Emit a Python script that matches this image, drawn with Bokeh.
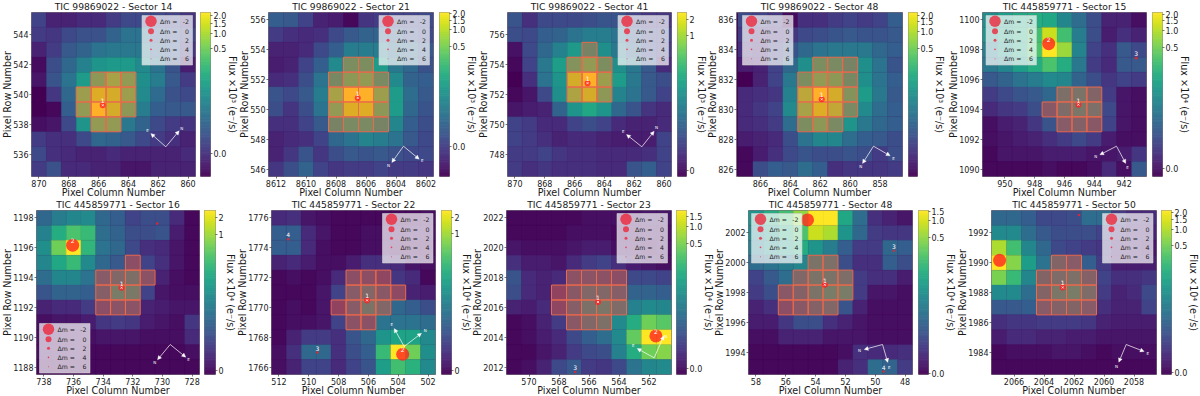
from bokeh.plotting import figure
from bokeh.layouts import row, column
from bokeh.models import Range1d, FixedTicker, Arrow, NormalHead
from bokeh.core.properties import value
from bokeh.palettes import Viridis256
from bokeh.embed import file_html
from bokeh.resources import INLINE

FONT = "DejaVu Sans"
INK = "#1a1a1a"
TS, LS, KS = "9.2px", "9.6px", "8px"

# colour level of every pixel, 0-100 along the (stretched) colour bar; rows run top to bottom
flux_a = [[20,10,10,12,12,18,22,22,22,20,15],[18,16,22,25,25,32,38,38,28,24,20],[10,18,28,32,38,40,40,40,30,28,16],[3,24,34,44,52,54,54,48,38,26,8],[6,26,38,55,70,78,72,50,42,28,18],[0,16,34,75,92,90,75,48,35,25,22],[0,2,30,72,100,90,70,42,30,28,28],[4,6,22,52,72,72,40,32,22,18,15],[18,14,14,22,34,32,28,22,18,14,10],[22,14,12,10,10,12,10,10,10,10,12],[18,25,12,12,10,10,6,6,10,10,10]]
flux_b = [[30,28,20,10,8,2,15,18,20,20,22],[18,14,12,14,22,28,32,32,30,24,22],[10,10,12,22,30,42,42,42,36,34,28],[8,10,20,30,48,62,62,55,40,34,25],[12,14,24,38,58,70,72,60,48,32,30],[26,22,28,42,78,100,100,75,55,36,28],[24,15,24,38,72,92,92,70,55,34,26],[14,14,20,28,55,60,60,55,46,30,24],[10,12,14,20,34,38,45,42,38,28,22],[10,16,26,16,24,28,26,28,25,22,22],[16,24,32,20,16,18,18,20,18,18,16]]
flux_c = [[26,14,22,22,22,24,26,26,20,16,16],[24,22,30,32,38,42,42,38,28,20,20],[5,22,34,44,54,55,50,40,32,22,18],[2,20,40,56,66,72,62,50,40,28,12],[0,14,38,52,90,100,75,55,40,28,24],[2,6,22,50,80,90,70,45,38,28,20],[6,8,10,32,52,60,52,34,26,15,12],[20,18,12,12,20,24,20,12,10,10,12],[20,18,14,10,12,12,10,8,8,8,20],[18,18,20,16,14,14,12,12,12,14,20],[18,14,16,14,14,14,12,12,26,30,20]]
flux_d = [[22,20,16,3,14,14,18,20,18,20,30],[18,14,14,16,22,24,26,28,26,26,28],[14,12,18,26,34,38,40,40,40,34,30],[8,10,20,34,50,62,60,55,50,38,26],[0,10,20,40,62,72,70,58,50,38,30],[12,14,16,44,84,100,90,66,55,40,28],[12,16,20,48,78,92,85,60,48,36,30],[12,14,18,36,62,70,60,52,40,34,30],[8,10,12,24,38,46,46,36,30,28,24],[2,8,14,22,26,24,24,26,24,18,24],[2,24,30,28,36,30,14,16,16,16,18]]
flux_e = [[50,56,60,62,60,46,36,24,10,10,4],[52,58,62,70,92,70,42,24,8,14,10],[44,54,60,72,100,85,45,20,14,28,22],[40,46,56,62,72,62,40,18,12,28,28],[28,32,38,42,48,46,32,24,16,20,18],[18,22,26,28,34,40,44,34,18,6,4],[12,16,18,24,26,38,46,42,22,6,4],[4,8,10,16,26,28,32,26,20,6,4],[4,6,8,10,14,18,22,18,8,4,4],[2,6,6,6,8,8,8,6,6,8,16],[2,2,2,2,4,2,2,4,12,4,28]]
flux_f = [[34,42,46,48,34,30,20,24,24,12,2],[44,62,72,68,36,32,24,24,26,8,2],[50,78,100,66,38,34,22,14,12,6,2],[46,60,68,48,34,28,20,20,14,6,2],[36,46,46,38,28,36,40,22,10,4,2],[26,32,32,30,30,50,48,20,6,4,4],[10,12,12,18,20,24,24,10,8,6,6],[4,6,6,8,16,18,16,8,6,4,16],[4,4,4,4,6,6,6,4,4,4,12],[4,4,4,2,2,2,2,2,2,2,4],[2,2,2,2,2,2,2,2,2,2,2]]
flux_g = [[12,14,6,4,2,2,2,2,2,2,4],[30,30,12,6,2,2,4,4,4,4,4],[30,30,12,4,2,2,4,4,2,2,2],[10,12,8,4,4,8,14,14,12,6,4],[2,4,2,4,12,20,20,16,16,12,2],[2,2,2,6,20,28,36,26,18,10,8],[2,4,2,6,14,28,44,36,34,30,24],[2,4,4,6,20,22,22,38,38,38,36],[2,10,18,18,14,26,34,52,58,58,48],[4,14,34,34,14,24,30,68,100,78,50],[4,10,20,20,12,20,26,56,70,64,48]]
flux_h = [[2,2,2,2,2,4,4,4,4,6,6],[2,2,2,2,4,4,4,2,4,4,4],[6,4,4,4,6,8,8,4,4,2,4],[14,8,8,6,12,18,20,14,8,6,4],[26,12,10,12,22,24,22,20,22,22,20],[24,12,10,14,26,36,36,30,32,32,30],[10,8,12,16,30,42,46,38,44,48,46],[2,4,10,18,26,36,42,48,62,78,74],[2,4,8,12,22,30,36,48,76,100,100],[2,2,6,10,18,22,24,44,62,78,82],[2,4,10,22,28,18,16,22,38,46,48]]
flux_i = [[52,62,70,84,100,100,60,36,14,10,6],[48,54,62,72,92,88,52,34,18,16,16],[44,50,56,62,52,42,30,18,18,34,30],[36,38,42,46,44,42,24,14,14,30,24],[20,28,36,36,44,44,40,18,14,14,8],[18,24,26,32,44,50,50,18,6,6,4],[10,14,20,26,32,36,26,10,4,4,4],[8,8,16,24,24,14,10,6,4,4,4],[4,4,10,10,10,6,6,6,4,4,4],[2,2,2,2,2,2,4,14,12,12,14],[2,2,2,2,2,2,10,14,36,32,18]]
flux_j = [[34,34,30,22,22,24,36,36,18,12,12],[48,48,36,28,24,24,24,20,14,10,10],[88,70,46,34,22,20,18,16,8,8,6],[100,82,56,38,34,28,30,18,8,8,8],[80,68,46,34,38,42,32,20,14,14,16],[48,48,36,34,46,50,38,18,10,12,22],[28,28,30,28,32,34,28,14,10,10,20],[14,16,16,18,18,18,16,10,8,8,8],[8,12,12,10,10,8,8,6,6,6,6],[2,4,4,4,6,6,4,2,4,4,4],[2,2,2,2,2,2,2,2,2,2,2]]

titles = ["TIC 99869022 - Sector 14","TIC 99869022 - Sector 21","TIC 99869022 - Sector 41","TIC 99869022 - Sector 48","TIC 445859771 - Sector 15",
          "TIC 445859771 - Sector 16","TIC 445859771 - Sector 22","TIC 445859771 - Sector 23","TIC 445859771 - Sector 48","TIC 445859771 - Sector 50"]
fluxes = [flux_a,flux_b,flux_c,flux_d,flux_e,flux_f,flux_g,flux_h,flux_i,flux_j]
first_col = [870,8612,870,867,951,738,512,571,58,2067]
top_row = [545,556,757,836,1100,1198,1776,2022,2003,1993]
x_ticks = [[870,868,866,864,862,860],[8612,8610,8608,8606,8604,8602],[870,868,866,864,862,860],[866,864,862,860,858],[950,948,946,944,942],
           [738,736,734,732,730,728],[512,510,508,506,504,502],[570,568,566,564,562],[58,56,54,52,50,48],[2066,2064,2062,2060,2058]]
y_ticks = [[536,538,540,542,544],[546,548,550,552,554,556],[748,750,752,754,756],[826,828,830,832,834,836],[1090,1092,1094,1096,1098,1100],
           [1188,1190,1192,1194,1196,1198],[1766,1768,1770,1772,1774,1776],[2012,2014,2016,2018,2020,2022],[1994,1996,1998,2000,2002],[1984,1986,1988,1990,1992]]

# pixels in the photometric aperture: (row, columns)
apertures = [
 [(541,[866,865,864]),(540,[867,866,865,864]),(539,[867,866,865,864]),(538,[866,865])],
 [(553,[8607,8606]),(552,[8608,8607,8606,8605]),(551,[8608,8607,8606,8605]),(550,[8608,8607,8606,8605]),(549,[8608,8607,8606,8605])],
 [(755,[865]),(754,[866,865,864]),(753,[866,865,864]),(752,[866,865,864])],
 [(833,[862,861,860]),(832,[863,862,861,860]),(831,[863,862,861,860]),(830,[863,862,861,860]),(829,[863,862,861])],
 [(1095,[946,945,944]),(1094,[947,946,945,944]),(1093,[946,945,944])],
 [(1195,[732]),(1194,[734,733,732,731]),(1193,[734,733,732]),(1192,[734,733,732])],
 [(1772,[507,506,505]),(1771,[507,506,505,504]),(1770,[508,507,506,505]),(1769,[507,506])],
 [(2018,[567,566,565,564]),(2017,[568,567,566,565,564]),(2016,[568,567,566,565,564]),(2015,[567,566,565])],
 [(2000,[54,53]),(1999,[55,54,53,52]),(1998,[56,55,54,53,52]),(1997,[56,55,54,53])],
 [(1990,[2063,2062]),(1989,[2064,2063,2062,2061]),(1988,[2064,2063,2062,2061]),(1987,[2064,2063,2062,2061])],
]

# neighbouring stars: x, y, marker size, label
star_x = [[865.72],[8606.55],[865.13],[861.9],[945.07,947.06,941.19],[732.76,736.06,730.36],[506.09,503.7,509.42,511.38],[565.4,561.54,566.92],[53.38,54.54,48.75,49.44],[2062.75,2066.96,2061.67]]
star_y = [[539.28],[550.77],[752.76],[830.68],[1094.32,1098.41,1097.44],[1193.32,1196.17,1197.63],[1770.47,1766.86,1766.97,1774.57],[2016.36,2014.09,2011.67],[1998.52,2002.87,2000.8,1992.7],[1988.34,1990.16,1993.19]]
star_s = [[6],[6],[6],[6],[6,13,3],[6,13,2.5],[6,13,2.5,2.5],[6,13,2.5],[6,13,2.5,2.5],[6,13,2.5]]
star_l = [["1"],["1"],["1"],["1"],["1","2","3"],["1","2",""],["1","2","3","4"],["1","2","3"],["1","","3","4"],["1","","" ]]

# compass: origin, N tip, E tip, N label, E label in frame pixels
compass = [
 [(134.3,134.3),(147.7,118.3),(119.3,121),(150.3,116),(116,118)],
 [(135,133.7),(123.3,150),(150.7,146.7),(120,152.7),(153.7,148.3)],
 [(134.3,134.3),(146.7,118.7),(119,122),(149,114.7),(115.7,119.3)],
 [(137,133.7),(126,151),(153.7,143.3),(124.3,153.7),(157,145.7)],
 [(134,133.7),(117.3,142.3),(143.3,151),(113.3,144.3),(145,154.7)],
 [(133.7,134),(121,149.3),(149.3,146.7),(118.3,152.3),(152,149)],
 [(132.7,136),(150,122.7),(122.7,118),(153.7,120),(120.3,114.3)],
 [(147.7,147.3),(157.3,125.3),(130.7,138),(159.3,126),(126.7,135.3)],
 [(134,134),(115.7,139),(139.3,152),(111,139.7),(140.7,156.7)],
 [(134.7,134),(127.3,151.7),(152.7,141),(125,155.7),(156.3,143)],
]

legend_dm = ["-2","0","2","4","6"]
legend_size = [11.5,6,3,1.6,1]
legend_box = [(110.5,3),(110.5,3),(110.5,3),(6,3),(3.5,3),(3,113),(111,3),(110.5,3),(3,3),(111,3)]  # frame px of the box corner

cbar_labels = [["2.0","1.5","1.0","0.5","0.0"],["2.0","1.5","1.0","0.5","0.0"],["2","1","0"],["2.0","1.5","1.0","0.5"],["2.0","1.5","1.0","0.5","0.0"],
               ["2","1","0"],["2","1","0"],["1.5","1.0","0.5","0.0"],["1.5","1.0","0.5","0.0"],["2.0","1.5","1.0","0.5","0.0"]]
cbar_pos = [[.98,.935,.873,.778,.143],[.994,.953,.896,.79,.182],[.955,.861,.037],[.984,.943,.882,.778],[.988,.949,.89,.786,.049],
            [.96,.853,.026],[.96,.857,.024],[.961,.902,.80,.039],[.994,.937,.837,.006],[.99,.945,.886,.788,.012]]
cbar_title = ["Flux ×10³ (e⁻/s)"]*4 + ["Flux ×10⁴ (e⁻/s)"]*6

frame_l = [31,268,507,736,982, 36,271,506,748,991]
frame_r = [195,433,671,902,1146, 199,435,671,912,1156]
bar_l = [200,439,677,908,1152, 204,441,676,918,1161]
bar_r = [210,449,686,917,1162, 215,451,686,928,1171]
border_l = [33,33,33,33,38, 38,38,38,38,38]
border_r = [33,33,23,33,33, 24,24,33,33,28]
ROW_TOP = [12,210]
FH = 164
BT, BB = 20, 25


def style_axis(ax, label_standoff):
    ax.major_label_text_font = FONT
    ax.major_label_text_font_size = KS
    ax.major_label_text_color = INK
    ax.axis_label_text_font = FONT
    ax.axis_label_text_font_size = LS
    ax.axis_label_text_font_style = "normal"
    ax.axis_label_text_color = INK
    ax.axis_label_standoff = label_standoff
    ax.major_label_standoff = 1
    ax.major_tick_in = 0
    ax.major_tick_out = 2
    ax.minor_tick_line_color = None
    ax.axis_line_color = None
    ax.major_tick_line_width = 0.6
    ax.major_tick_line_color = INK


def heat(i, margin_left):
    fw = frame_r[i] - frame_l[i]
    x0 = first_col[i] + 0.5
    x1 = first_col[i] - 10.5
    y1 = top_row[i] + 0.5
    y0 = top_row[i] - 10.5
    if i == 3:
        x0 += 0.1
    fx = lambda v: x0 + (x1 - x0) * v / fw
    fy = lambda v: y1 + (y0 - y1) * v / FH
    p = figure(x_range=Range1d(x0, x1), y_range=Range1d(y0, y1), frame_width=fw, frame_height=FH,
               min_border_left=border_l[i], min_border_right=bar_l[i] - frame_r[i], min_border_top=BT, min_border_bottom=BB,
               toolbar_location=None, output_backend="svg", title=titles[i],
               margin=(0, 0, 0, margin_left), border_fill_color=None, background_fill_color="#440154",
               outline_line_color="#666666", outline_line_width=0.7)
    p.title.text_font = FONT
    p.title.text_font_size = TS
    p.title.text_font_style = "normal"
    p.title.text_color = INK
    p.title.align = "center"
    p.title.standoff = 1
    p.title.offset = 0
    p.grid.visible = False
    p.xaxis.axis_label = "Pixel Column Number"
    p.yaxis.axis_label = "Pixel Row Number"
    p.xaxis.ticker = FixedTicker(ticks=x_ticks[i])
    p.yaxis.ticker = FixedTicker(ticks=y_ticks[i])
    style_axis(p.xaxis[0], -3)
    style_axis(p.yaxis[0], -3)

    xs, ys, cs = [], [], []
    for r, line in enumerate(fluxes[i]):
        for c, v in enumerate(line):
            xs.append(first_col[i] - c)
            ys.append(top_row[i] - r)
            cs.append(Viridis256[min(255, int(v * 2.555))])
    p.rect(xs, ys, width=1, height=1, fill_color=cs, line_color=cs, line_width=0.3)

    ax, ay = [], []
    for rw, cols in apertures[i]:
        for c in cols:
            ax.append(c)
            ay.append(rw)
    p.rect(ax, ay, width=1, height=1, fill_color="#ff6030", fill_alpha=0.4, line_color="#ea6a4e", line_width=1)

    p.scatter(star_x[i], star_y[i], size=star_s[i], marker="circle", fill_color="#ff2020", fill_alpha=0.78, line_color=None)
    p.scatter(star_x[i][:1], star_y[i][:1], size=3, marker="x", line_color="white", line_width=0.7)
    up = (y1 - y0) / FH * 4.5
    p.text(star_x[i], [y + up for y in star_y[i]], text=star_l[i], text_color="white", text_font=value(FONT),
           text_font_size=value("6px"), text_align="center", text_baseline="middle")

    o, n, e, nl, el = compass[i]
    for tip in (n, e):
        p.add_layout(Arrow(x_start=fx(o[0]), y_start=fy(o[1]), x_end=fx(tip[0]), y_end=fy(tip[1]),
                           line_color="white", line_width=0.7,
                           end=NormalHead(size=4, fill_color="white", line_color="white", line_width=0.3)))
    p.text([fx(nl[0]), fx(el[0])], [fy(nl[1]), fy(el[1])], text=["N", "E"], text_color="white", text_font=value(FONT),
           text_font_size=value("4px"), text_align="center", text_baseline="middle")

    bx, by = legend_box[i]
    p.quad(left=[fx(bx)], right=[fx(bx + 50.5)], top=[fy(by)], bottom=[fy(by + 49.5)],
           fill_color="white", fill_alpha=0.7, line_color="#cccccc", line_width=0.6)
    rows = [5.7, 15.7, 24.8, 33.9, 43.2]
    p.scatter([fx(bx + 9)] * 5, [fy(by + v) for v in rows], size=legend_size, marker="circle",
              fill_color="#f01c30", fill_alpha=0.75, line_color=None)
    p.text([fx(bx + 18)] * 5, [fy(by + v) for v in rows], text=["Δm ="] * 5, text_font=value(FONT),
           text_font_size=value("6.2px"), text_baseline="middle", text_color="#222222")
    p.text([fx(bx + 47)] * 5, [fy(by + v) for v in rows], text=legend_dm, text_font=value(FONT),
           text_font_size=value("6.2px"), text_baseline="middle", text_align="right", text_color="#222222")
    return p


def bar(i):
    fw = bar_r[i] - bar_l[i]
    b = figure(x_range=Range1d(0, 1), y_range=Range1d(0, 1), frame_width=fw, frame_height=FH,
               min_border_left=0, min_border_right=border_r[i], min_border_top=BT, min_border_bottom=BB,
               toolbar_location=None, output_backend="svg", x_axis_location=None, y_axis_location="right",
               margin=0, border_fill_color=None, outline_line_color="#666666", outline_line_width=0.7)
    b.grid.visible = False
    n = len(Viridis256)
    b.quad(left=[0] * n, right=[1] * n, bottom=[k / n for k in range(n)], top=[(k + 1) / n for k in range(n)],
           fill_color=list(Viridis256), line_color=list(Viridis256), line_width=0.4)
    ax = b.yaxis[0]
    ax.ticker = FixedTicker(ticks=cbar_pos[i])
    ax.major_label_overrides = dict(zip(cbar_pos[i], cbar_labels[i]))
    ax.axis_label = cbar_title[i]
    style_axis(ax, -2)
    ax.axis_label_orientation = "vertical"
    return b


rows = []
prev_bottom = 0
for r, idx in enumerate([range(0, 5), range(5, 10)]):
    kids, end = [], 0
    for i in idx:
        kids.append(heat(i, frame_l[i] - border_l[i] - end))
        kids.append(bar(i))
        end = bar_r[i] + border_r[i]
    rows.append(row(*kids, spacing=0, margin=(ROW_TOP[r] - BT - prev_bottom, 0, 0, 0)))
    prev_bottom = ROW_TOP[r] + FH + BB

root = column(*rows, spacing=0)
open("out.html", "w").write(file_html(root, INLINE))
